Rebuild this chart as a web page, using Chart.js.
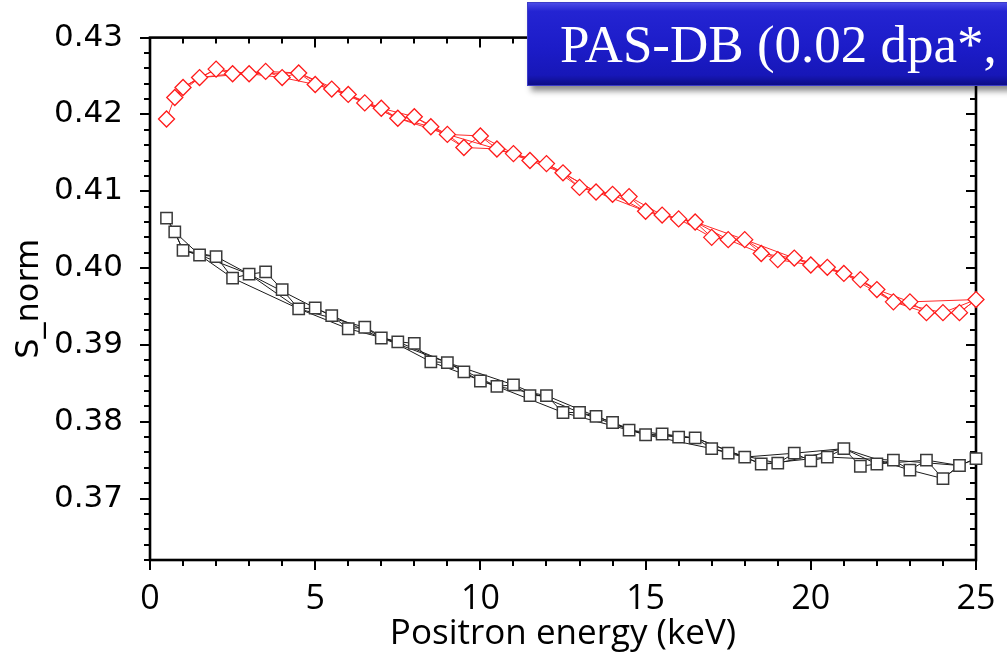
<!DOCTYPE html>
<html><head><meta charset="utf-8">
<script src="https://cdn.jsdelivr.net/npm/chart.js@4/dist/chart.umd.min.js"></script>
<style>
html,body{margin:0;padding:0;background:#fff;width:1007px;height:663px;overflow:hidden;}
#wrap{position:relative;width:1007px;height:663px;}
#c{position:absolute;left:0;top:0;}
#banner{position:absolute;left:527px;top:2px;width:520px;height:84px;box-sizing:border-box;
  background:linear-gradient(#4a4ae6 0%,#2424d2 10%,#1c1cc8 55%,#1717b8 88%,#0e0e86 100%);
  border:1px solid #3c3cc8;box-shadow:4px 5px 6px rgba(0,0,0,0.45);
  color:#fff;font-family:"Liberation Serif","Times New Roman",serif;font-size:53px;line-height:82px;
  padding-left:32px;white-space:nowrap;z-index:2;}
</style></head>
<body><div id="wrap"><canvas id="c" width="1007" height="663"></canvas>
<div id="banner">PAS-DB (0.02 dpa*,</div></div>
<script>
// Energies (keV) of the measured points
const energies = [0.5,0.75,1,1.5,2,2.5,3,3.5,4,4.5,5,5.5,6,6.5,7,7.5,8,8.5,9,9.5,10,10.5,11,11.5,12,12.5,13,13.5,14,14.5,15,15.5,16,16.5,17,17.5,18,18.5,19,19.5,20,20.5,21,21.5,22,22.5,23,23.5,24,24.5,25];
// S_norm, red diamonds
const redS = [0.4194,0.4222,0.4235,0.4248,0.4259,0.4253,0.4253,0.4256,0.4248,0.4254,0.4239,0.4233,0.4226,0.4215,0.4208,0.4195,0.4197,0.4184,0.4174,0.4157,0.4172,0.4155,0.4149,0.4140,0.4136,0.4124,0.4105,0.4099,0.4096,0.4093,0.4074,0.4069,0.4064,0.4060,0.4040,0.4037,0.4037,0.4019,0.4011,0.4013,0.4004,0.4001,0.3993,0.3985,0.3972,0.3956,0.3956,0.3942,0.3942,0.3942,0.3959];
// S_norm, black squares
const blackS = [0.4065,0.4047,0.4023,0.4017,0.4015,0.3987,0.3992,0.3995,0.3972,0.3947,0.3948,0.3938,0.3921,0.3923,0.3909,0.3904,0.3902,0.3878,0.3877,0.3865,0.3853,0.3846,0.3848,0.3834,0.3834,0.3812,0.3812,0.3807,0.3799,0.3789,0.3783,0.3784,0.3780,0.3779,0.3765,0.3759,0.3754,0.3745,0.3746,0.3759,0.3749,0.3754,0.3765,0.3742,0.3745,0.3750,0.3737,0.3750,0.3726,0.3743,0.3752];
// Order in which the connecting lines visit the points (several scans)
const redScans = [
  energies,
  [0.75,1,2,3,4,5,6,7,8,9,10,11,12,13,14,15,16,17,18,19,20,21,22,23,25],
  [0.75,1.5,2.5,3.5,4.5,5.5,6.5,7.5,8.5,9.5,10.5,11.5,12.5,13.5,14.5,15.5,16.5,17.5,18.5,19.5,20.5,21.5,22.5,23.5,24.5,25],
  [1,1.5,3,4.5,6,7.5,9,10.5,12,13.5,15,16.5,18,19.5,21,22.5,24,25]
];
const blackScans = [
  energies,
  [0.5,0.75,1.5,2.5,4.5,6.5,8.5,10.5,12.5,14.5,16.5,18.5,20.5,22.5,24.5,25],
  [1,2,3,5,7,9,11,13,15,17,19,21,23,24,24.5],
  [0.75,1,1.5,3,4.5,6,7.5,9,10.5,12,13.5,15,16.5,18,19.5,21,22,23.5,24.5]
];
const xTickLabels = [0,5,10,15,20,25];
const yTickLabels = [0.37,0.38,0.39,0.40,0.41,0.42,0.43];

const pts = (vals) => energies.map((e,i)=>({x:e,y:vals[i]}));
const scanPts = (scan, vals) => scan.map(e=>({x:e,y:vals[energies.indexOf(e)]}));

const datasets = [
  {label:'red', data:pts(redS), showLine:false, pointStyle:'rectRot', pointRadius:8, pointHoverRadius:8,
   pointBorderColor:'#ff1a1a', pointBackgroundColor:'#ffffff', pointBorderWidth:1.3, clip:false},
  {label:'black', data:pts(blackS), showLine:false, pointStyle:'rect', pointRadius:8, pointHoverRadius:8,
   pointBorderColor:'#3a3a3a', pointBackgroundColor:'#ffffff', pointBorderWidth:1.5, clip:false}
];
redScans.forEach(s=>datasets.push({data:scanPts(s,redS), showLine:true, pointRadius:0, borderColor:'#ff2a2a', borderWidth:1, tension:0, clip:false}));
blackScans.forEach(s=>datasets.push({data:scanPts(s,blackS), showLine:true, pointRadius:0, borderColor:'#1a1a1a', borderWidth:1, tension:0, clip:false}));

const near = (a,b)=>Math.abs(a-b)<1e-6;
const frame = {
  id:'frame',
  beforeDatasetsDraw(chart){
    const {ctx, chartArea:a, scales:{x,y}} = chart;
    ctx.save();
    ctx.strokeStyle='#000'; ctx.lineWidth=2; ctx.lineCap='butt';
    const ln=(x1,y1,x2,y2)=>{ctx.beginPath();ctx.moveTo(x1,y1);ctx.lineTo(x2,y2);ctx.stroke();};
    x.ticks.forEach(t=>{
      const px = Math.round(x.getPixelForValue(t.value));
      const L = xTickLabels.some(v=>near(v,t.value)) ? 10 : 6;
      ln(px,a.bottom,px,a.bottom+L);
      ln(px,a.top,px,a.top+L);
    });
    y.ticks.forEach(t=>{
      const py = Math.round(y.getPixelForValue(t.value));
      const L = yTickLabels.some(v=>near(v,t.value)) ? 10 : 6;
      ln(a.left-L,py,a.left,py);
      ln(a.right-L,py,a.right,py);
    });
    ctx.lineWidth=2.6;
    ctx.strokeRect(a.left,a.top,a.right-a.left,a.bottom-a.top);
    ctx.restore();
  }
};

new Chart(document.getElementById('c'), {
  type:'scatter',
  data:{datasets},
  plugins:[frame],
  options:{
    responsive:false, animation:false, devicePixelRatio:1,
    layout:{padding:{left:0,right:31,top:25,bottom:0}},
    plugins:{legend:{display:false}, tooltip:{enabled:false}},
    scales:{
      x:{type:'linear', min:0, max:25,
        grid:{display:false}, border:{display:false},
        ticks:{stepSize:1, autoSkip:false, maxRotation:0, padding:11, color:'#000',
          font:{family:'"Open Sans"', size:34},
          callback:(v)=> xTickLabels.some(t=>near(t,v)) ? String(Math.round(v)) : ''},
        title:{display:true, text:'Positron energy (keV)', color:'#000',
          font:{family:'"Open Sans"', size:35}, padding:{top:0,bottom:8}},
        afterFit:(s)=>{s.height=103;}
      },
      y:{type:'linear', min:0.362, max:0.43,
        grid:{display:false}, border:{display:false},
        ticks:{stepSize:0.002, autoSkip:false, padding:19, color:'#000',
          font:{family:'"DejaVu Sans"', size:31},
          callback:(v)=>{const m=yTickLabels.find(t=>near(t,v)); return m!==undefined ? m.toFixed(2) : '';}},
        title:{display:true, text:'S_norm', color:'#000',
          font:{family:'"DejaVu Sans"', size:32, lineHeight:1}, padding:{top:14,bottom:0}},
        afterFit:(s)=>{s.width=150;}
      }
    }
  }
});
</script></body></html>
